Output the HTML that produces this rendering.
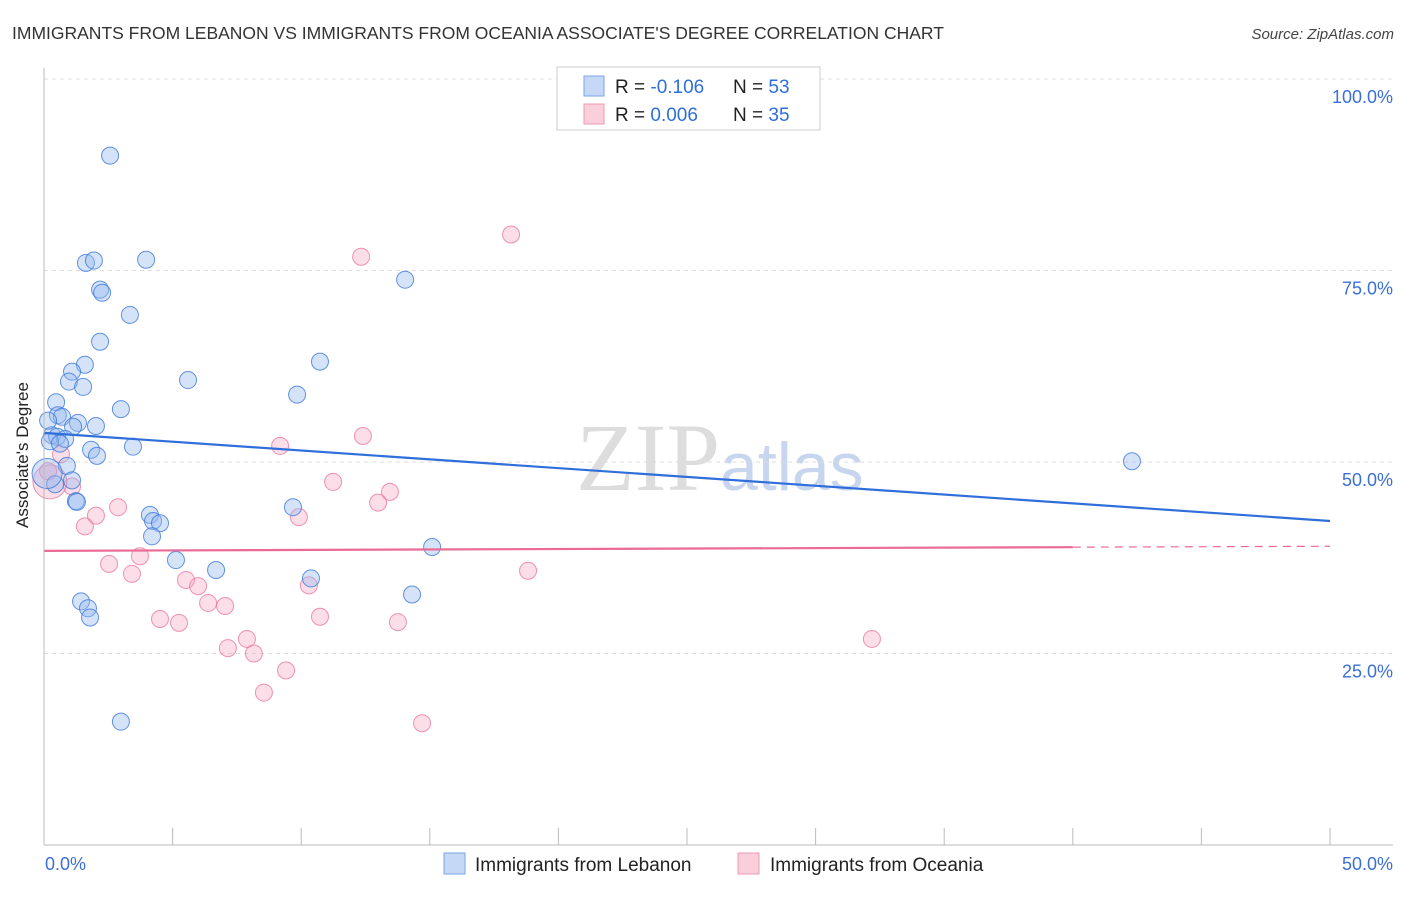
<!DOCTYPE html>
<html><head><meta charset="utf-8"><style>
body{margin:0;background:#fff;font-family:"Liberation Sans",sans-serif;}
</style></head><body>
<svg id="c" width="1406" height="892" xmlns="http://www.w3.org/2000/svg">
<text x="12" y="39" font-size="17.5" fill="#333">IMMIGRANTS FROM LEBANON VS IMMIGRANTS FROM OCEANIA ASSOCIATE'S DEGREE CORRELATION CHART</text>
<text x="1394" y="39" font-size="15" fill="#444" font-style="italic" text-anchor="end">Source: ZipAtlas.com</text>
<text x="720" y="490" font-size="96" font-family="Liberation Serif,serif" fill="#ddd" text-anchor="end">ZIP</text>
<text x="720" y="490" font-size="68" fill="#c7d6ee">atlas</text>
<g id="grid"></g><g id="pts"></g><g id="lines"></g>
<line x1="44" y1="68" x2="44" y2="845" stroke="#bbb"/>
<line x1="44" y1="845" x2="1393" y2="845" stroke="#bbb"/>
<text x="28" y="455" font-size="17" fill="#222" text-anchor="middle" transform="rotate(-90 28 455)">Associate's Degree</text>
<text x="45" y="870" font-size="18" fill="#3a6fd8">0.0%</text>
<text x="1393" y="870" font-size="18" fill="#3a6fd8" text-anchor="end">50.0%</text>
<g>
<rect x="557" y="67" width="263" height="63" fill="#fff" stroke="#ccc"/>
<rect x="584" y="76" width="20" height="20" fill="#c5d8f5" stroke="#7aa5e8"/>
<rect x="584" y="104" width="20" height="20" fill="#f9cfdc" stroke="#ef9ab5"/>
<text x="615" y="93" font-size="19" fill="#222">R = <tspan fill="#2f6fdb">-0.106</tspan><tspan x="733">N = </tspan><tspan fill="#2f6fdb">53</tspan></text>
<text x="615" y="121" font-size="19" fill="#222">R = <tspan fill="#2f6fdb"> 0.006</tspan><tspan x="733">N = </tspan><tspan fill="#2f6fdb">35</tspan></text>
</g>
<g>
<rect x="444" y="853" width="21" height="21" fill="#c5d8f5" stroke="#7aa5e8"/>
<text x="475" y="871" font-size="19" fill="#222">Immigrants from Lebanon</text>
<rect x="738" y="853" width="21" height="21" fill="#f9cfdc" stroke="#ef9ab5"/>
<text x="770" y="871" font-size="19" fill="#222">Immigrants from Oceania</text>
</g>
</svg>
<script>
const yTicks=[25,50,75,100];
const yTickLabels=["25.0%","50.0%","75.0%","100.0%"];
const xTicks=[0,5,10,15,20,25,30,35,40,45,50];
const blueX=[2.57,1.63,1.94,3.97,14.04,2.18,2.26,3.34,2.18,10.73,1.59,1.09,0.97,1.52,5.6,9.84,0.47,2.99,0.54,0.7,1.32,1.13,2.02,0.31,0.51,0.82,0.23,1.83,2.06,3.46,0.89,1.09,1.24,1.28,4.12,4.24,4.51,4.2,9.68,5.13,6.69,10.38,15.09,14.31,1.44,1.71,1.79,2.99,42.3,0.16,0.62,0.43,0.12];
const blueY=[90.0,76.0,76.3,76.4,73.8,72.5,72.1,69.2,65.7,63.1,62.7,61.8,60.5,59.8,60.7,58.8,57.8,56.9,56.1,55.9,55.1,54.6,54.7,53.5,53.3,53.0,52.7,51.6,50.8,52.0,49.5,47.6,44.9,44.8,43.1,42.3,42.0,40.3,44.1,37.2,35.9,34.8,38.9,32.7,31.8,30.9,29.7,16.1,50.1,55.4,52.4,47.1,48.5];
const pinkX=[18.16,12.33,12.4,9.18,11.24,13.45,12.99,9.91,0.66,1.09,2.88,2.02,1.59,3.73,2.53,3.42,5.52,5.99,18.82,10.3,6.38,7.04,4.51,5.25,10.73,13.76,7.89,7.15,8.16,32.19,9.41,8.55,14.7,0.23,0.16];
const pinkY=[79.7,76.8,53.4,52.1,47.4,46.1,44.7,42.8,51.0,46.8,44.1,43.0,41.6,37.7,36.7,35.4,34.6,33.8,35.8,33.9,31.6,31.2,29.5,29.0,29.8,29.1,26.9,25.7,25.0,26.9,22.8,19.9,15.9,47.4,48.8];
const blueTrend=[53.8,42.3];
const pinkTrend=[38.4,39.0];
const pinkSolidEnd=40;
const X=v=>44+v*(1330-44)/50, Y=v=>845-v*(845-79)/100;
const NS="http://www.w3.org/2000/svg";
function mk(p,t,a){const e=document.createElementNS(NS,t);for(const k in a)e.setAttribute(k,a[k]);p.appendChild(e);return e;}
const grid=document.getElementById('grid'),pts=document.getElementById('pts'),lines=document.getElementById('lines'),svg=document.getElementById('c');
yTicks.forEach((t,i)=>{
 const l=mk(grid,'line',{x1:44,x2:1393,y1:Y(t),y2:Y(t),stroke:'#ddd','stroke-dasharray':'4 4'});
 
 
 const tx=mk(svg,'text',{x:1393,y:Y(t)+24,'font-size':18,fill:'#3a6fd8','text-anchor':'end'});
 tx.textContent=yTickLabels[i];
 
 
});
xTicks.forEach(t=>{
 const l=mk(svg,'line',{x1:X(t),x2:X(t),y1:828,y2:845,stroke:'#bbb'});
 
 
});
pinkX.forEach((x,i)=>{
 const c=mk(pts,'circle',{cx:X(x),cy:Y(pinkY[i]),r:i==33?17:8.5,fill:'rgba(244,160,190,0.35)',stroke:'rgba(236,120,160,0.8)','stroke-width':1});
 
 
});
blueX.forEach((x,i)=>{
 const c=mk(pts,'circle',{cx:X(x),cy:Y(blueY[i]),r:i==52?15:8.5,fill:'rgba(150,185,240,0.4)',stroke:'rgba(60,120,220,0.8)','stroke-width':1});
 
 
});
const bl=mk(lines,'line',{x1:X(0),y1:Y(blueTrend[0]),x2:X(50),y2:Y(blueTrend[1]),stroke:'#2f6fdb','stroke-width':2.2});


const pm=pinkTrend[0]+(pinkTrend[1]-pinkTrend[0])*pinkSolidEnd/50;
const pl=mk(lines,'line',{x1:X(0),y1:Y(pinkTrend[0]),x2:X(pinkSolidEnd),y2:Y(pm),stroke:'#ea6a95','stroke-width':2.2});


const pd=mk(lines,'line',{x1:X(pinkSolidEnd),y1:Y(pm),x2:X(50),y2:Y(pinkTrend[1]),stroke:'#ea6a95','stroke-width':1.2,'stroke-dasharray':'8 6'});


</script>
</body></html>
